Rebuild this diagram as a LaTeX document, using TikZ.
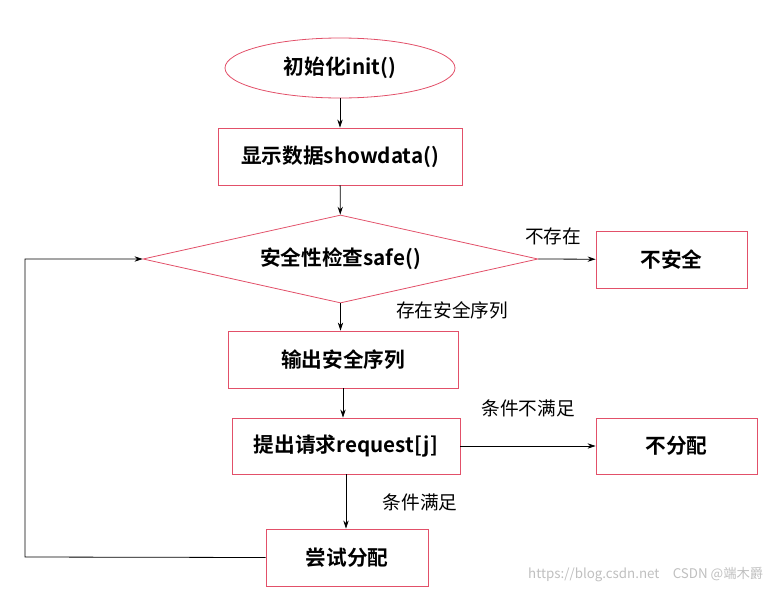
\documentclass[tikz,border=0pt]{standalone}
\usepackage{fontspec}
\setmainfont{Noto Sans CJK SC}
\newfontfamily\cjkb{Noto Sans CJK SC Bold}
\usetikzlibrary{shapes.geometric,arrows.meta}
\definecolor{edge}{RGB}{226,80,105}
\begin{document}
\begin{tikzpicture}[x=0.75pt,y=-0.75pt,
 box/.style={draw=edge,line width=0.6pt,inner sep=0pt,font=\cjkb\fontsize{15.5}{17}\selectfont},
 arr/.style={-{Stealth[length=6pt,width=4pt]},line width=0.6pt},
 lab/.style={font=\fontsize{14}{16}\selectfont}]
\useasboundingbox (0,0) rectangle (775,593);
\node[box,ellipse,minimum width=230*0.75pt,minimum height=60*0.75pt] (init) at (340,68) {初始化init()};
\node[box,minimum width=244*0.75pt,minimum height=57*0.75pt] (show) at (340,156.5) {显示数据showdata()};
\node[box,diamond,aspect=4.5,minimum width=395*0.75pt,minimum height=88*0.75pt] (safe) at (340.5,259) {安全性检查safe()};
\node[box,minimum width=151*0.75pt,minimum height=57*0.75pt] (unsafe) at (671.5,259.5) {不安全};
\node[box,minimum width=230*0.75pt,minimum height=57*0.75pt] (out) at (343,359.5) {输出安全序列};
\node[box,minimum width=228*0.75pt,minimum height=56*0.75pt] (req) at (346,446) {提出请求request[j]};
\node[box,minimum width=161*0.75pt,minimum height=56*0.75pt] (nodis) at (676.5,446) {不分配};
\node[box,minimum width=162*0.75pt,minimum height=57*0.75pt] (try) at (347,557.5) {尝试分配};
\coordinate (c1) at (25,557);
\coordinate (c2) at (25,259);
\draw[arr] (init) -- (show);
\draw[arr] (show) -- (safe);
\draw[arr] (safe.east) -- (unsafe);
\draw[arr] (safe.south) -- (out.north -| safe.south);
\draw[arr] (out) -- (req.north -| out.south);
\draw[arr] (req) -- (nodis);
\draw[arr] (req.south) -- (try.north -| req.south);
\draw[arr] (try.west) -- (c1) -- (c2) -- (safe.west);
\node[lab] (l1) at (553,236) {不存在};
\node[lab] (l2) at (452,310) {存在安全序列};
\node[lab] (l3) at (528,408) {条件不满足};
\node[lab] (l4) at (420,502) {条件满足};
\node[font=\fontsize{10}{12}\selectfont,text=gray!50,anchor=east] (wm) at (768,575) {https://blog.csdn.net\quad CSDN @端木爵};
\end{tikzpicture}
\end{document}
